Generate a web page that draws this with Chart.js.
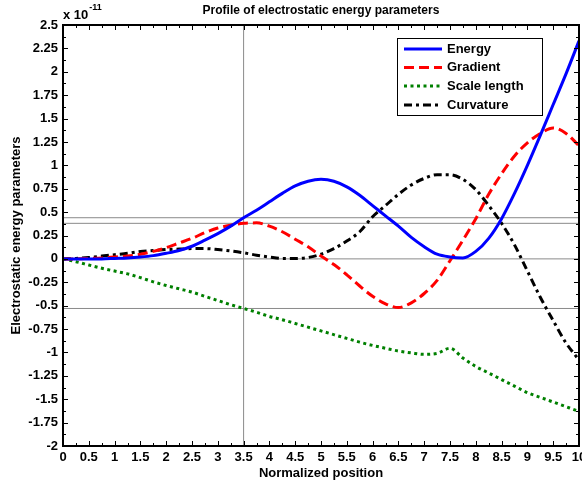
<!DOCTYPE html>
<html><head><meta charset="utf-8">
<script src="https://cdn.jsdelivr.net/npm/chart.js@4.4.1/dist/chart.umd.min.js"></script>
<style>html,body{margin:0;padding:0;background:#fff;}canvas{display:block;}</style>
</head><body>
<canvas id="c" width="582" height="482"></canvas>
<script>
// ---- data (values in units of 1e-11) ----
const positions = [0,0.25,0.5,0.75,1,1.25,1.5,1.75,2,2.25,2.5,2.75,3,3.25,3.5,3.75,4,4.25,4.5,4.75,5,5.25,5.5,5.75,6,6.25,6.5,6.75,7,7.25,7.5,7.75,8,8.25,8.5,8.75,9,9.25,9.5,9.75,10];
const energy = [0,0,0,0,0.005,0.01,0.02,0.035,0.06,0.09,0.135,0.2,0.27,0.35,0.44,0.52,0.61,0.70,0.78,0.83,0.85,0.83,0.77,0.68,0.57,0.46,0.35,0.23,0.13,0.05,0.02,0.01,0.08,0.22,0.43,0.70,1.0,1.32,1.65,1.98,2.33];
const gradient = [0,0,0.005,0.01,0.02,0.03,0.05,0.08,0.12,0.17,0.22,0.28,0.33,0.36,0.38,0.385,0.35,0.29,0.21,0.13,0.03,-0.06,-0.17,-0.29,-0.40,-0.48,-0.52,-0.47,-0.37,-0.23,-0.02,0.2,0.43,0.69,0.91,1.10,1.24,1.34,1.40,1.34,1.21];
const scaleLength = [0,-0.03,-0.065,-0.1,-0.13,-0.16,-0.2,-0.245,-0.285,-0.32,-0.355,-0.4,-0.445,-0.49,-0.53,-0.57,-0.615,-0.65,-0.69,-0.73,-0.77,-0.81,-0.85,-0.89,-0.925,-0.955,-0.985,-1.005,-1.02,-1.01,-0.955,-1.06,-1.15,-1.22,-1.29,-1.36,-1.43,-1.48,-1.53,-1.58,-1.63];
const curvature = [0,0.005,0.015,0.03,0.045,0.06,0.08,0.09,0.1,0.105,0.11,0.11,0.1,0.085,0.065,0.04,0.02,0.005,0.005,0.015,0.05,0.11,0.19,0.29,0.45,0.57,0.69,0.79,0.86,0.9,0.9,0.85,0.74,0.57,0.38,0.15,-0.13,-0.41,-0.66,-0.9,-1.08];
const seriesNames = ['Energy','Gradient','Scale length','Curvature'];
const cursorX = 3.5;
const cursorLevels = [0.44, 0.38, 0, -0.53];
const xTickValues = [0,0.5,1,1.5,2,2.5,3,3.5,4,4.5,5,5.5,6,6.5,7,7.5,8,8.5,9,9.5,10];
const yTickValues = [-2,-1.75,-1.5,-1.25,-1,-0.75,-0.5,-0.25,0,0.25,0.5,0.75,1,1.25,1.5,1.75,2,2.25,2.5];
const xMinorTicks = [0.25,0.75,1.25,1.75,2.25,2.75,3.25,3.75,4.25,4.75,5.25,5.75,6.25,6.75,7.25,7.75,8.25,8.75,9.25,9.75];
const yMinorTicks = [-1.875,-1.625,-1.375,-1.125,-0.875,-0.625,-0.375,-0.125,0.125,0.375,0.625,0.875,1.125,1.375,1.625,1.875,2.125,2.375];

const FONT = "'Liberation Sans', Arial, Helvetica, sans-serif";
Chart.defaults.font.family = FONT;
Chart.defaults.color = '#000';

const mk = vals => positions.map((x,i)=>({x:x, y:vals[i]}));
const styles = [
  {borderColor:'#0000ff', borderDash:[]},
  {borderColor:'#ff0000', borderDash:[10,5]},
  {borderColor:'#008000', borderDash:[3,3.5]},
  {borderColor:'#000000', borderDash:[8,4,3,4]}
];
const seriesData = [energy, gradient, scaleLength, curvature];
const datasets = seriesData.map((vals,i)=>Object.assign({
  label: seriesNames[i], data: mk(vals), borderWidth:3, pointRadius:0, fill:false,
  cubicInterpolationMode:'monotone', borderCapStyle:'butt'
}, styles[i]));
const grayLine = {borderColor:'#8a8a8a', borderWidth:1, pointRadius:0, fill:false, tension:0, isCursor:true};
datasets.push(Object.assign({label:'', data:[{x:cursorX,y:-2},{x:cursorX,y:2.5}]}, grayLine));
cursorLevels.forEach(l=>datasets.push(Object.assign({label:'', data:[{x:0,y:l},{x:10,y:l}]}, grayLine)));

const framePlugin = {
  id:'frame',
  afterDatasetsDraw(chart){
    const {ctx, chartArea:a, scales:{x,y}} = chart;
    ctx.save();
    ctx.strokeStyle='#000'; ctx.lineWidth=1;
    const seg=(x1,y1,x2,y2)=>{ctx.beginPath();ctx.moveTo(x1,y1);ctx.lineTo(x2,y2);ctx.stroke();};
    const yt=(v,len)=>{const p=Math.round(y.getPixelForValue(v))+0.5; seg(a.left,p,a.left+len,p); seg(a.right,p,a.right-len,p);};
    const xt=(v,len)=>{const p=Math.round(x.getPixelForValue(v))+0.5; seg(p,a.bottom,p,a.bottom-len); seg(p,a.top,p,a.top+len);};
    yTickValues.forEach(v=>yt(v,5)); yMinorTicks.forEach(v=>yt(v,3));
    xTickValues.forEach(v=>xt(v,5)); xMinorTicks.forEach(v=>xt(v,3));
    ctx.lineWidth=2;
    ctx.strokeRect(a.left, a.top, a.right-a.left, a.bottom-a.top);
    // exponent label
    ctx.fillStyle='#000'; ctx.textBaseline='alphabetic'; ctx.textAlign='left';
    ctx.font = "bold 13px " + FONT;
    ctx.fillText('x 10', a.left, 19);
    const w = ctx.measureText('x 10').width;
    ctx.font = "bold 9px " + FONT;
    ctx.fillText('-11', a.left + w + 1, 10);
    // legend
    const L=397, T=38, R=542, B=115;
    ctx.fillStyle='#fff'; ctx.fillRect(L,T,R-L,B-T);
    ctx.lineWidth=1; ctx.strokeStyle='#000'; ctx.strokeRect(L+0.5,T+0.5,R-L,B-T);
    const rows=[49,67.5,86,105];
    for(let i=0;i<4;i++){
      const ds = chart.data.datasets[i];
      ctx.save();
      ctx.strokeStyle=ds.borderColor; ctx.lineWidth=3; ctx.setLineDash(ds.borderDash); ctx.lineCap='butt';
      seg(404,rows[i],442,rows[i]);
      ctx.restore();
      ctx.fillStyle='#000'; ctx.font="bold 13px "+FONT; ctx.textBaseline='middle'; ctx.textAlign='left';
      ctx.fillText(ds.label, 447, rows[i]);
    }
    ctx.restore();
  }
};

new Chart(document.getElementById('c'), {
  type:'line',
  data:{datasets:datasets},
  options:{
    responsive:false, animation:false, events:[],
    layout:{padding:{left:0,right:3,top:0,bottom:0}},
    plugins:{
      legend:{display:false}, tooltip:{enabled:false},
      title:{display:true, text:'Profile of electrostatic energy parameters', fullSize:false,
        font:{size:12, weight:'bold'}, color:'#000', padding:{top:3,bottom:7.6}}
    },
    scales:{
      x:{type:'linear', min:0, max:10,
        afterBuildTicks:s=>{s.ticks = xTickValues.map(v=>({value:v}));},
        afterFit:s=>{s.height=36; s.paddingLeft=0; s.paddingRight=0;},
        grid:{display:false, drawTicks:false}, border:{display:false},
        ticks:{padding:4, maxRotation:0, autoSkip:false, font:{size:13, weight:'bold'}, color:'#000',
          callback:v=>String(Math.round(v*100)/100)},
        title:{display:true, text:'Normalized position', font:{size:13, weight:'bold'}, color:'#000', padding:{top:0,bottom:1}}
      },
      y:{type:'linear', min:-2, max:2.5,
        afterBuildTicks:s=>{s.ticks = yTickValues.map(v=>({value:v}));},
        afterFit:s=>{s.width=63; s.paddingTop=0; s.paddingBottom=0;},
        grid:{display:false, drawTicks:false}, border:{display:false},
        ticks:{padding:5, autoSkip:false, font:{size:13, weight:'bold'}, color:'#000',
          callback:v=>String(Math.round(v*100)/100)},
        title:{display:true, text:'Electrostatic energy parameters', font:{size:13, weight:'bold'}, color:'#000', padding:{top:9,bottom:0}}
      }
    }
  },
  plugins:[framePlugin]
});
</script>
</body></html>
